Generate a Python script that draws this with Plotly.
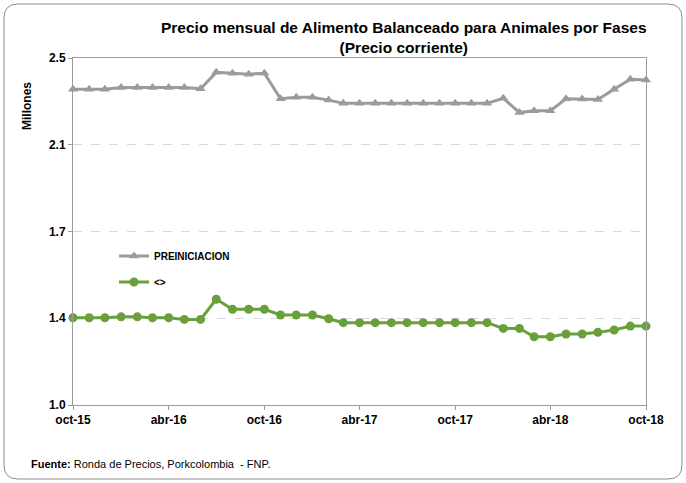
import plotly.graph_objects as go
import pandas as pd

months = pd.date_range("2015-10-01", "2018-10-01", freq="MS")

preiniciacion = [2.365, 2.365, 2.365, 2.372, 2.372, 2.372, 2.372, 2.372, 2.367,
                 2.438, 2.434, 2.430, 2.434, 2.324, 2.330, 2.330, 2.318, 2.304,
                 2.304, 2.304, 2.304, 2.304, 2.304, 2.304, 2.304, 2.304, 2.304,
                 2.326, 2.264, 2.272, 2.272, 2.324, 2.323, 2.321, 2.365, 2.408, 2.405]

serie2 = [1.377, 1.377, 1.377, 1.381, 1.381, 1.377, 1.377, 1.370, 1.370,
          1.457, 1.414, 1.414, 1.414, 1.389, 1.389, 1.389, 1.373, 1.356,
          1.356, 1.356, 1.356, 1.356, 1.356, 1.356, 1.356, 1.356, 1.356,
          1.331, 1.331, 1.295, 1.295, 1.307, 1.307, 1.314, 1.324, 1.341, 1.341]

x_tickvals = ["2015-10-01", "2016-04-01", "2016-10-01", "2017-04-01",
              "2017-10-01", "2018-04-01", "2018-10-01"]
x_ticktext = ["oct-15", "abr-16", "oct-16", "abr-17", "oct-17", "abr-18", "oct-18"]
y_tickvals = [1.0, 1.375, 1.75, 2.125, 2.5]
y_ticktext = ["1.0", "1.4", "1.7", "2.1", "2.5"]

W, H = 686, 483
L, R, T, B = 73, 40, 58, 78
pw, ph = W - L - R, H - T - B

def px2paper(xp, yp):
    return (xp - L) / pw, (H - B - yp) / ph

FONT = "Liberation Sans, Arial, sans-serif"
GRAY = "#9b9b9b"
GREEN = "#69a03c"

fig = go.Figure()
fig.add_trace(go.Scatter(
    x=months, y=preiniciacion, name="<b>PREINICIACION</b>", mode="lines+markers",
    line=dict(color=GRAY, width=3), marker=dict(symbol="triangle-up", size=9, color=GRAY),
    cliponaxis=False, legend="legend"))
fig.add_trace(go.Scatter(
    x=months, y=serie2, name="<b>&lt;&gt;</b>", mode="lines+markers",
    line=dict(color=GREEN, width=3), marker=dict(symbol="circle", size=9, color=GREEN),
    cliponaxis=False, legend="legend2"))

# rounded outer border
x0, y0 = px2paper(4, 4)
x1, y1 = px2paper(682, 479)
rx = 14 / pw
ry = 14 / ph
path = (f"M {x0+rx},{y0} L {x1-rx},{y0} Q {x1},{y0} {x1},{y0-ry} "
        f"L {x1},{y1+ry} Q {x1},{y1} {x1-rx},{y1} L {x0+rx},{y1} "
        f"Q {x0},{y1} {x0},{y1+ry} L {x0},{y0-ry} Q {x0},{y0} {x0+rx},{y0} Z")
fig.add_shape(type="path", path=path, xref="paper", yref="paper",
              line=dict(color="#8c8c8c", width=1))

tx, ty = px2paper(404, 37)
fig.add_annotation(x=tx, y=ty, xref="paper", yref="paper", showarrow=False,
                   xanchor="center", yanchor="middle",
                   text="<b>Precio mensual de Alimento Balanceado para Animales por Fases<br>(Precio corriente)</b>",
                   font=dict(family=FONT, size=15.5, color="black"), align="center")
mx, my = px2paper(27, 106)
fig.add_annotation(x=mx, y=my, xref="paper", yref="paper", showarrow=False, textangle=-90,
                   xanchor="center", yanchor="middle",
                   text="<b>Millones</b>", font=dict(family=FONT, size=12, color="black"))
fx, fy = px2paper(29, 464)
fig.add_annotation(x=fx, y=fy, xref="paper", yref="paper", showarrow=False,
                   xanchor="left", yanchor="middle",
                   text="<b>Fuente:</b> Ronda de Precios, Porkcolombia  - FNP.",
                   font=dict(family=FONT, size=11, color="black"))

lx1, ly1 = px2paper(114, 256)
lx2, ly2 = px2paper(114, 282)

fig.update_layout(
    width=W, height=H, margin=dict(l=L, r=R, t=T, b=B),
    paper_bgcolor="white", plot_bgcolor="white",
    font=dict(family=FONT, color="black"),
    showlegend=True,
    legend=dict(x=lx1, y=ly1, xanchor="left", yanchor="middle", bgcolor="rgba(0,0,0,0)",
                font=dict(family=FONT, size=10, color="black"), itemwidth=30),
    legend2=dict(x=lx2, y=ly2, xanchor="left", yanchor="middle", bgcolor="rgba(0,0,0,0)",
                 font=dict(family=FONT, size=10, color="black"), itemwidth=30),
    xaxis=dict(range=["2015-10-01", "2018-10-01"], tickvals=x_tickvals, ticktext=x_ticktext,
               showgrid=False, showline=True, linecolor=GRAY, linewidth=1, mirror=True,
               ticks="outside", ticklen=4, tickcolor=GRAY,
               tickfont=dict(family=FONT, size=12, color="black", weight="bold")),
    yaxis=dict(range=[1.0, 2.5], tickvals=y_tickvals, ticktext=y_ticktext,
               showgrid=True, gridcolor="#d9d9d9", griddash="dash", gridwidth=1,
               showline=True, linecolor=GRAY, linewidth=1, mirror=True,
               ticks="outside", ticklen=4, tickcolor=GRAY, zeroline=False,
               tickfont=dict(family=FONT, size=12, color="black", weight="bold")),
)

fig.write_html("out.html", config={"displayModeBar": False},
               post_script="document.body.style.margin='0';document.body.style.overflow='hidden';")
